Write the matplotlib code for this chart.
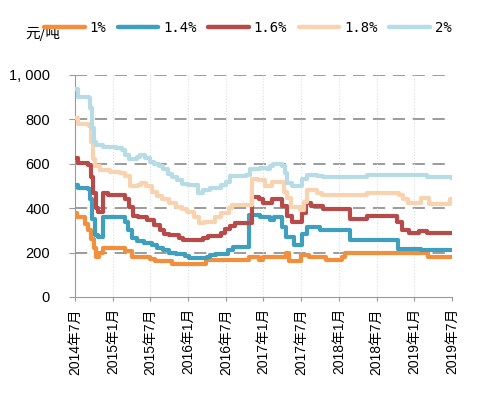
import matplotlib.pyplot as plt
from matplotlib.lines import Line2D

# month index: 0 = 2014年7月, 60 = 2019年7月 (step breakpoints)
m_1 = [0, 0.3, 1.6, 2.1, 2.5, 3.0, 3.4, 3.9, 4.4, 8.0, 9.0, 12.0, 12.8, 15.5, 20.9,
       27.7, 29.3, 30.0, 33.6, 34.0, 36.0, 37.2, 40.0, 42.5, 43.0, 56.2, 60]
v_1 = [378, 360, 330, 300, 260, 220, 178, 198, 221, 205, 180, 170, 160, 150, 165,
       178, 167, 180, 198, 162, 188, 180, 167, 180, 197, 180, 180]

m_14 = [0, 0.4, 2.0, 2.4, 2.7, 3.2, 3.6, 4.5, 8.0, 8.5, 9.1, 9.8, 11.0, 12.2, 13.0,
        14.0, 15.0, 16.0, 17.5, 18.2, 21.0, 21.5, 22.5, 24.4, 25.2, 27.7, 29.4, 31.0,
        31.6, 33.0, 33.6, 34.8, 36.2, 37.0, 39.0, 43.8, 51.4, 55.0, 60]
v_14 = [505, 490, 485, 440, 350, 280, 270, 360, 340, 300, 265, 250, 245, 235, 220,
        210, 198, 195, 185, 175, 180, 188, 195, 210, 225, 370, 360, 345,
        360, 315, 270, 235, 285, 315, 302, 255, 215, 212, 210]

m_16 = [0, 0.4, 2.1, 2.5, 2.9, 3.3, 3.6, 4.5, 5.2, 8.0, 8.6, 9.2, 10.0, 11.5, 12.6,
        13.6, 14.2, 15.0, 16.5, 17.2, 20.3, 21.2, 23.3, 23.8, 24.6, 25.5, 28.2, 29.3,
        30.0, 31.3, 33.0, 33.7, 34.5, 36.1, 36.8, 37.5, 39.5, 43.8, 46.5, 51.3, 52.0,
        53.2, 54.8, 56.0, 60]
v_16 = [625, 605, 595, 540, 470, 400, 385, 470, 460, 440, 405, 365, 360, 345, 325,
        300, 285, 280, 265, 255, 265, 275, 290, 305, 320, 335, 450, 440,
        425, 440, 410, 365, 340, 380, 425, 410, 395, 350, 365, 340, 300,
        290, 297, 288, 288]

m_18 = [0, 0.4, 2.2, 2.5, 2.8, 3.2, 4.0, 5.5, 7.2, 8.0, 8.8, 10.0, 10.5, 11.3, 12.2,
        13.0, 13.8, 15.0, 16.0, 17.0, 17.8, 19.0, 19.7, 20.5, 22.3, 23.3, 24.5, 25.0,
        28.2, 29.2, 30.3, 31.3, 33.2, 33.8, 34.3, 35.8, 36.5, 37.0, 38.5, 39.3, 46.5,
        51.5, 52.2, 53.0, 55.0, 56.3, 59.7, 60]
v_18 = [805, 780, 770, 700, 620, 590, 570, 565, 560, 545, 500, 505, 515, 500, 475,
        455, 440, 425, 405, 395, 385, 360, 335, 340, 360, 380, 400, 415,
        530, 525, 500, 520, 475, 445, 405, 390, 430, 480, 470, 460, 470,
        460, 440, 425, 445, 420, 440, 440]

m_2 = [0, 0.4, 2.2, 2.4, 2.7, 3.0, 3.4, 4.5, 6.5, 7.5, 8.0, 8.6, 9.8, 10.3, 11.2,
       11.9, 12.5, 13.3, 14.0, 14.8, 15.5, 16.3, 17.0, 18.0, 19.6, 20.4, 21.5, 23.3,
       24.0, 24.6, 27.2, 27.9, 29.4, 30.5, 31.0, 31.5, 33.0, 33.4, 33.7, 34.5, 36.2,
       36.9, 38.5, 39.5, 46.5, 56.0, 60]
v_2 = [935, 900, 895, 850, 760, 700, 685, 675, 670, 660, 640, 620, 630, 640, 625,
       610, 600, 590, 575, 555, 540, 525, 510, 505, 470, 480, 490, 505,
       520, 545, 550, 575, 580, 575, 590, 600, 590, 560, 515, 500, 530,
       550, 545, 540, 550, 540, 537]

labels = ['1%', '1.4%', '1.6%', '1.8%', '2%']
colors = ['#F28E3C', '#3E9FBE', '#B94A4A', '#F9D3B0', '#B7DCE6']
ticks = [0, 6, 12, 18, 24, 30, 36, 42, 48, 54, 60]
tick_labels = ['2014年7月', '2015年1月', '2015年7月', '2016年1月', '2016年7月', '2017年1月',
               '2017年7月', '2018年1月', '2018年7月', '2019年1月', '2019年7月']
yticks = [0, 200, 400, 600, 800, 1000]
ytick_labels = ['0', '200', '400', '600', '800', '1, 000']

fonts = ['Liberation Sans', 'Noto Sans CJK SC']

fig = plt.figure(figsize=(5.04, 3.93), dpi=100)
ax = fig.add_axes([0.1488, 0.2443, 0.748, 0.5649])

series = [(m_1, v_1), (m_14, v_14), (m_16, v_16), (m_18, v_18), (m_2, v_2)]
for (mx, vy), c in zip(series, colors):
    ax.plot(mx, vy, drawstyle='steps-post', color=c, lw=3.0, zorder=3)

ax.set_xlim(0, 60)
ax.set_ylim(0, 1000)
ax.set_xticks(ticks)
ax.set_xticklabels(tick_labels, rotation=90, family=fonts, fontsize=10)
ax.set_yticks(yticks)
ax.set_yticklabels(ytick_labels, family=fonts, fontsize=10.5)
ax.tick_params(axis='x', length=3, color='#999999', pad=5)
ax.tick_params(axis='y', length=4, color='#999999', pad=14)

for y in yticks[1:]:
    ax.axhline(y, color='#808080', lw=1.1, dashes=(8, 5), zorder=1)
for x in ticks[1:]:
    ax.axvline(x, color='#dddddd', lw=0.8, ls=':', zorder=1)

for s in ['top', 'right']:
    ax.spines[s].set_visible(False)
for s in ['left', 'bottom']:
    ax.spines[s].set_color('#999999')

fig.text(0.05, 0.915, '元/吨', family=['Noto Sans CJK SC'], fontsize=10.5, va='center')

handles = [Line2D([], [], color=c, lw=3.2, solid_capstyle='round') for c in colors]
fig.legend(handles, labels, loc='center left', bbox_to_anchor=(0.088, 0.93), ncol=5,
           frameon=False, prop={'family': 'DejaVu Sans Mono', 'size': 10},
           handlelength=2.9, handletextpad=0.35, columnspacing=0.85, borderpad=0,
           borderaxespad=0)

fig.savefig('out.png', dpi=100)
